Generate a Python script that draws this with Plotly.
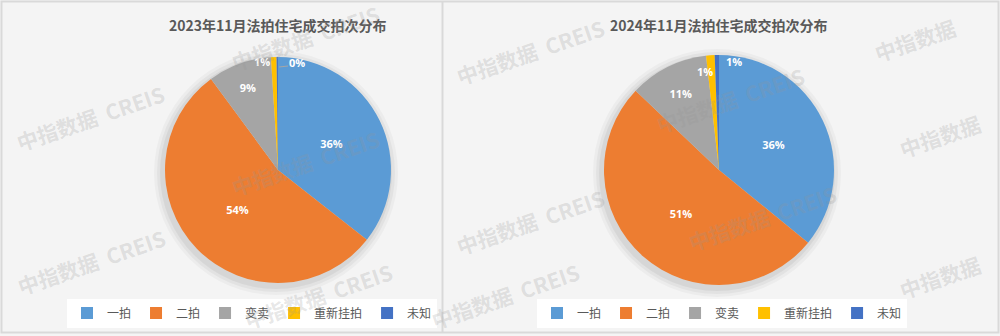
import plotly.graph_objects as go

# ---- data ----
categories = ["一拍", "二拍", "变卖", "重新挂拍", "未知"]
values_2023 = [35.6, 54.3, 9.1, 0.8, 0.2]
values_2024 = [35.9, 51.2, 11.1, 1.2, 0.6]
titles = ["2023年11月法拍住宅成交拍次分布", "2024年11月法拍住宅成交拍次分布"]
colors = ["#5B9BD5", "#ED7D31", "#A5A5A5", "#FFC000", "#4472C4"]

W, H = 1000, 336
# pie geometry (px): center x, center y, radius
geo = [(278, 170, 113), (719, 170, 115)]


def dom(cx, cy, r):
    return dict(x=[(cx - r) / W, (cx + r) / W], y=[1 - (cy + r) / H, 1 - (cy - r) / H])


fig = go.Figure()
text_pos = ["inside", "inside", "inside", "none", "none"]
# the second pie gets invisibly distinct labels so it keeps its own legend entries
label_sets = [categories, [c + "\u200b" for c in categories]]
for i, (vals, lg) in enumerate([(values_2023, "legend"), (values_2024, "legend2")]):
    cx, cy, r = geo[i]
    fig.add_trace(go.Pie(
        labels=label_sets[i], values=vals, sort=False, direction="clockwise", rotation=0,
        marker=dict(colors=colors, line=dict(width=0)),
        texttemplate="%{percent:.0%}",
        textposition=text_pos, insidetextorientation="horizontal",
        textfont=dict(family="Open Sans", size=11, color="white", weight="bold"),
        domain=dom(cx, cy, r), legend=lg, showlegend=True, hoverinfo="label+percent",
    ))

annotations = []
shapes = []

# titles
for i, t in enumerate(titles):
    cx = geo[i][0]
    annotations.append(dict(text=t, x=cx / W, y=1 - 25 / H, xref="paper", yref="paper",
                            showarrow=False, xanchor="center", yanchor="middle",
                            font=dict(family="Noto Sans CJK SC", size=14, color="#595959", weight="bold")))


# small-slice labels
def pct(vals, k):
    return f"{round(vals[k] / sum(vals) * 100)}%"


small = [
    (values_2023, 3, 262, 61), (values_2023, 4, 297, 62),
    (values_2024, 3, 705, 71), (values_2024, 4, 734, 61),
]
for vals, k, px, py in small:
    annotations.append(dict(text=pct(vals, k), x=px / W, y=1 - py / H, xref="paper", yref="paper",
                            showarrow=False, xanchor="center", yanchor="middle",
                            font=dict(family="Open Sans", size=11, color="white", weight="bold")))
# leader line for 0% label
shapes.append(dict(type="line", xref="paper", yref="paper", x0=279 / W, x1=288 / W,
                   y0=1 - 67 / H, y1=1 - 66 / H, line=dict(color="#A6A6A6", width=1)))

# watermarks (full text where the reference shows it whole, trimmed where only part is visible)
wm_full = [(90, 118), (91, 262), (305, 163), (305, 38), (530, 52), (730, 100), (530, 222),
           (762, 218), (318, 296), (505, 296)]
wm_part = [(940, 136), (940, 277), (915, 40)]
for pts, txt in [(wm_full, "中指数据  CREIS"), (wm_part, "中指数据")]:
    for x, y in pts:
        annotations.append(dict(text=txt, x=x / W, y=1 - y / H, xref="paper", yref="paper",
                                showarrow=False, textangle=-19, xanchor="center", yanchor="middle",
                                font=dict(family="Noto Sans CJK SC", size=21,
                                          color="rgba(150,150,150,0.24)", weight="bold")))

# soft shadow behind pies
for cx, cy, r in geo:
    for k, a in [(9, 0.03), (6, 0.04), (3, 0.05)]:
        rr = r + k
        shapes.append(dict(type="circle", xref="paper", yref="paper", layer="below",
                           x0=(cx - rr - 2) / W, x1=(cx + rr - 2) / W,
                           y0=1 - (cy + rr + 3) / H, y1=1 - (cy - rr + 3) / H,
                           fillcolor=f"rgba(0,0,0,{a})", line=dict(width=0)))

# frame borders
shapes.append(dict(type="rect", xref="paper", yref="paper", x0=1.5 / W, x1=998.5 / W,
                   y0=1 - 332.5 / H, y1=1 - 1.5 / H, line=dict(color="#D9D9D9", width=2)))
shapes.append(dict(type="line", xref="paper", yref="paper", x0=442.5 / W, x1=442.5 / W,
                   y0=1 - 332.5 / H, y1=1 - 1.5 / H, line=dict(color="#D9D9D9", width=2)))

legend_common = dict(orientation="h", xanchor="center", yanchor="middle", bgcolor="#FFFFFF",
                     font=dict(family="Noto Sans CJK SC", size=12, color="#595959"),
                     itemclick=False, itemdoubleclick=False, traceorder="normal")
fig.update_layout(
    width=W, height=H, margin=dict(l=0, r=0, t=0, b=0),
    paper_bgcolor="#F4F4F4", plot_bgcolor="#F4F4F4",
    legend=dict(x=252 / W, y=1 - 313 / H, **legend_common),
    legend2=dict(x=722 / W, y=1 - 313 / H, **legend_common),
    annotations=annotations, shapes=shapes,
)

fig.write_html("out.html")
